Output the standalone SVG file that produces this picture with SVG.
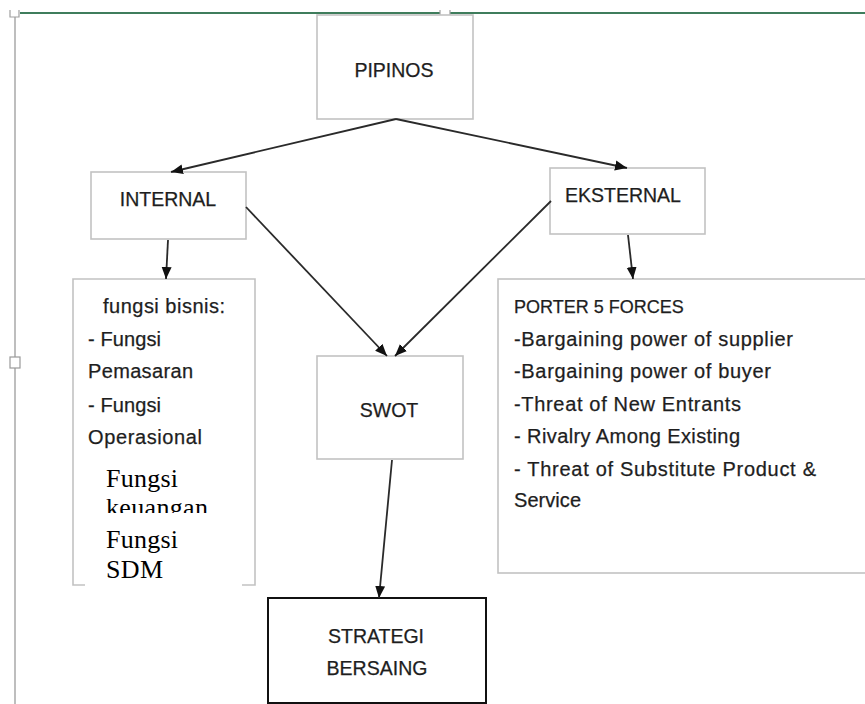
<svg xmlns="http://www.w3.org/2000/svg" width="865" height="704" viewBox="0 0 865 704">
<style>
.box{fill:#fff;stroke:#c2c2c2;stroke-width:1.6}
.t{font-family:"Liberation Sans",Arial,sans-serif;font-size:19.5px;fill:#1e1e1e;stroke:#1e1e1e;stroke-width:0.25}
.b{font-family:"Liberation Sans",Arial,sans-serif;font-size:20px;fill:#1e1e1e;stroke:#1e1e1e;stroke-width:0.25}
.tm{font-family:"Liberation Serif","Times New Roman",serif;font-size:26px;fill:#000}
.c{stroke:#2a2a2a;stroke-width:1.8;fill:none;marker-end:url(#ah)}
.h{fill:#fff;stroke:#9a9a9a;stroke-width:1.2}
</style>
<defs>
<marker id="ah" markerUnits="userSpaceOnUse" markerWidth="14" markerHeight="14" viewBox="0 0 14 14" refX="12" refY="7" orient="auto">
<path d="M0,2 L12,7 L0,12 Z" fill="#111"/>
</marker>
<clipPath id="kc"><rect x="80" y="460" width="170" height="53"/></clipPath>
</defs>
<rect width="865" height="704" fill="#fff"/>
<g id="frame">
<line x1="15" y1="17" x2="15" y2="704" stroke="#a8a8a8" stroke-width="1.5"/>
<line x1="20" y1="13" x2="865" y2="13" stroke="#3f7d5c" stroke-width="2"/>
<path d="M10,10 V17 H19 V10" fill="#fff" stroke="#a0a0a0" stroke-width="1.2"/>
<path d="M440,10 V17 H450 V10" fill="#fff" stroke="#a0a0a0" stroke-width="1.2"/>
<rect class="h" x="10" y="357" width="10" height="11"/>
</g>
<g id="pipinos">
<rect class="box" x="317" y="15" width="156" height="104"/>
<text class="t" x="394" y="77" text-anchor="middle">PIPINOS</text>
</g>
<g id="internal">
<rect class="box" x="91" y="172" width="155" height="67"/>
<text class="t" x="168" y="206" text-anchor="middle">INTERNAL</text>
</g>
<g id="eksternal">
<rect class="box" x="550" y="168" width="155" height="66"/>
<text class="t" x="565" y="202">EKSTERNAL</text>
</g>
<g id="fungsi">
<path d="M85,585 H73 V279 H255 V585 H242" fill="#fff" stroke="#c2c2c2" stroke-width="1.6"/>
<text class="b" x="103" y="313" textLength="122">fungsi bisnis:</text>
<text class="b" x="88" y="346" textLength="73">- Fungsi</text>
<text class="b" x="88" y="378" textLength="105">Pemasaran</text>
<text class="b" x="88" y="412" textLength="73">- Fungsi</text>
<text class="b" x="88" y="444" textLength="114">Operasional</text>
<text class="tm" x="106" y="487" textLength="72">Fungsi</text>
<text class="tm" x="106" y="516" textLength="102" clip-path="url(#kc)">keuangan</text>
<text class="tm" x="106" y="548" textLength="72">Fungsi</text>
<text class="tm" x="106" y="578" textLength="57">SDM</text>
</g>
<g id="swot">
<rect class="box" x="317" y="356" width="146" height="103"/>
<text class="t" x="389" y="417" text-anchor="middle">SWOT</text>
</g>
<g id="porter">
<rect class="box" x="498" y="279" width="400" height="294"/>
<text class="t" x="514" y="313" style="font-size:18px">PORTER 5 FORCES</text>
<text class="b" x="514" y="346" textLength="279">-Bargaining power of supplier</text>
<text class="b" x="514" y="378" textLength="257">-Bargaining power of buyer</text>
<text class="b" x="514" y="411" textLength="227">-Threat of New Entrants</text>
<text class="b" x="514" y="443" textLength="226">- Rivalry Among Existing</text>
<text class="b" x="514" y="476" textLength="302">- Threat of Substitute Product &amp;</text>
<text class="b" x="514" y="507" textLength="67">Service</text>
</g>
<g id="strategi">
<rect x="268" y="598" width="218" height="105" fill="#fff" stroke="#111" stroke-width="2"/>
<text class="t" x="376" y="643" text-anchor="middle">STRATEGI</text>
<text class="t" x="377" y="675" text-anchor="middle">BERSAING</text>
</g>
<g id="connectors">
<line class="c" x1="396" y1="119" x2="171" y2="172"/>
<line class="c" x1="396" y1="119" x2="627" y2="168"/>
<line class="c" x1="168" y1="240" x2="166" y2="279"/>
<line class="c" x1="246" y1="207" x2="387" y2="356"/>
<line class="c" x1="551" y1="201" x2="395" y2="356"/>
<line class="c" x1="628" y1="235" x2="633" y2="279"/>
<line class="c" x1="392" y1="460" x2="379" y2="598"/>
</g>
</svg>
